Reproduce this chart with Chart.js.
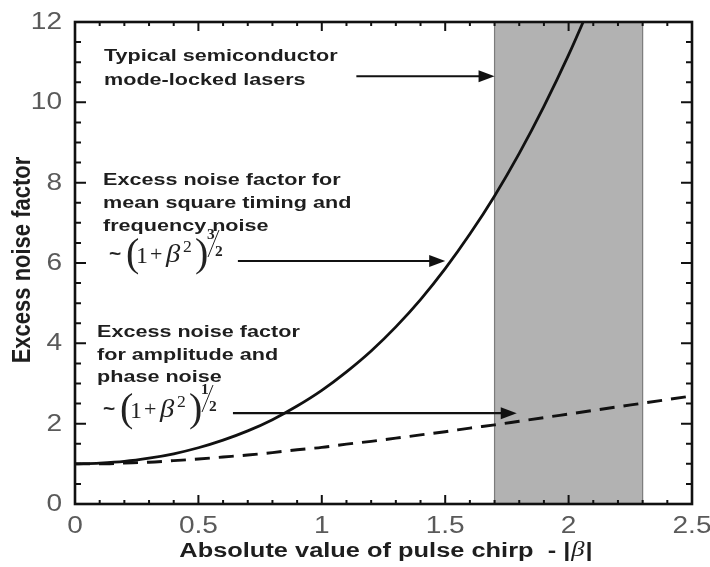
<!DOCTYPE html>
<html>
<head>
<meta charset="utf-8">
<script src="https://cdn.jsdelivr.net/npm/chart.js@4.4.0/dist/chart.umd.min.js"></script>
<style>
    html, body { margin: 0; padding: 0; background: #ffffff; }
    #wrap { width: 710px; height: 567px; }
</style>
</head>
<body>
<div id="wrap"><canvas id="chirpChart" width="710" height="567"></canvas></div>
<script>
// absolute value of the pulse chirp |β|
const chirp = [0, 0.1, 0.2, 0.3, 0.4, 0.5, 0.6, 0.7, 0.8, 0.9, 1.0, 1.1, 1.2,
               1.3, 1.4, 1.5, 1.6, 1.7, 1.8, 1.9, 2.0, 2.1, 2.2, 2.3, 2.4, 2.5];

// timing / frequency noise factor, ~(1+β²)^(3/2) (runs off the top after 2.1)
const timingNoise = [1.00, 1.02, 1.06, 1.14, 1.25, 1.40, 1.59, 1.82, 2.10, 2.44, 2.83,
                     3.29, 3.81, 4.41, 5.09, 5.86, 6.72, 7.67, 8.73, 9.90, 11.18, 12.58];

// amplitude / phase noise factor, ~(1+β²)^(1/2)
const amplitudeNoise = [1.00, 1.00, 1.02, 1.04, 1.08, 1.12, 1.17, 1.22, 1.28, 1.35, 1.41,
                        1.49, 1.56, 1.64, 1.72, 1.80, 1.89, 1.97, 2.06, 2.15, 2.24, 2.33,
                        2.42, 2.51, 2.60, 2.69];

const xTicks = [0, 0.5, 1, 1.5, 2, 2.5];
const xTickLabels = ['0', '0.5', '1', '1.5', '2', '2.5'];
const yTicks = [0, 2, 4, 6, 8, 10, 12];
const yTickLabels = ['0', '2', '4', '6', '8', '10', '12'];

// chirp range of typical semiconductor mode-locked lasers
const laserBand = [1.7, 2.3];

// arrows, in data units
const arrows = [
    { from: [1.14, 10.65], to: [1.70, 10.65] },
    { from: [0.66, 6.05], to: [1.50, 6.05] },
    { from: [0.64, 2.26], to: [1.79, 2.26] }
];

const SANS = '"Liberation Sans", Arial, Helvetica, sans-serif';
const SERIF = '"Liberation Serif", "Times New Roman", serif';
const SX = 1.27;   // wide lettering

function txt(ctx, str, x, y, font, color, align, sx) {
    ctx.save();
    ctx.font = font;
    ctx.fillStyle = color;
    ctx.textAlign = align || 'left';
    ctx.textBaseline = 'alphabetic';
    ctx.translate(x, y);
    ctx.scale(sx || SX, 1);
    ctx.fillText(str, 0, 0);
    ctx.restore();
}

function textBlock(ctx, lines, x, y0, lineGap) {
    lines.forEach((l, i) => txt(ctx, l, x, y0 + i * lineGap, 'bold 17px ' + SANS, '#1e1e1e'));
}

// ~(1+β²)^(n/2)
function formula(ctx, x0, base, topDigit) {
    const c = '#222';
    txt(ctx, '~', x0, base - 3, 'bold 19px ' + SANS, c, 'left', 1.1);
    txt(ctx, '(', x0 + 17, base + 3, '40px ' + SERIF, c, 'left', 1.0);
    txt(ctx, '1', x0 + 27, base, '24px ' + SERIF, c, 'left', 1.0);
    txt(ctx, '+', x0 + 41, base - 2, '22px ' + SERIF, c, 'left', 1.0);
    txt(ctx, 'β', x0 + 57, base - 1, 'italic 26px ' + SERIF, c, 'left', 1.1);
    txt(ctx, '2', x0 + 74, base - 11, '16px ' + SERIF, c, 'left', 1.1);
    txt(ctx, ')', x0 + 86, base + 3, '40px ' + SERIF, c, 'left', 1.0);
    txt(ctx, topDigit, x0 + 98, base - 24, 'bold 14px ' + SERIF, c, 'left', 1.1);
    txt(ctx, '2', x0 + 106, base - 7, 'bold 14px ' + SERIF, c, 'left', 1.1);
    ctx.save();
    ctx.strokeStyle = c;
    ctx.lineWidth = 1;
    ctx.beginPath();
    ctx.moveTo(x0 + 99, base - 6);
    ctx.lineTo(x0 + 110, base - 33);
    ctx.stroke();
    ctx.restore();
}

const noiseDecor = {
    id: 'noiseDecor',
    beforeDatasetsDraw(chart) {
        const { ctx, chartArea: a, scales: { x } } = chart;
        const x1 = x.getPixelForValue(laserBand[0]);
        const x2 = x.getPixelForValue(laserBand[1]);
        ctx.save();
        ctx.fillStyle = '#b2b2b2';
        ctx.fillRect(x1, a.top, x2 - x1, a.bottom - a.top);
        ctx.strokeStyle = '#7c7c7c';
        ctx.lineWidth = 1.2;
        ctx.beginPath();
        ctx.moveTo(x1, a.top); ctx.lineTo(x1, a.bottom);
        ctx.moveTo(x2, a.top); ctx.lineTo(x2, a.bottom);
        ctx.stroke();
        ctx.restore();
    },
    afterDatasetsDraw(chart) {
        const { ctx, chartArea: a, scales: { x, y } } = chart;
        ctx.save();

        // inward ticks on all four sides
        ctx.strokeStyle = '#111';
        ctx.lineWidth = 2;
        ctx.beginPath();
        for (let i = 0; i <= 25; i++) {
            const px = x.getPixelForValue(i / 10);
            const len = i % 5 === 0 ? 9 : 4;
            ctx.moveTo(px, a.bottom); ctx.lineTo(px, a.bottom - len);
            ctx.moveTo(px, a.top); ctx.lineTo(px, a.top + len);
        }
        for (let i = 0; i <= 24; i++) {
            const py = y.getPixelForValue(i / 2);
            const len = i % 4 === 0 ? 11 : 6;
            ctx.moveTo(a.left, py); ctx.lineTo(a.left + len, py);
            ctx.moveTo(a.right, py); ctx.lineTo(a.right - len, py);
        }
        ctx.stroke();

        // frame
        ctx.lineWidth = 2.6;
        ctx.strokeRect(a.left, a.top, a.right - a.left, a.bottom - a.top);

        // tick labels
        xTicks.forEach((v, i) => {
            txt(ctx, xTickLabels[i], x.getPixelForValue(v), a.bottom + 29, '23px ' + SANS, '#5a5a5a', 'center', 1.22);
        });
        yTicks.forEach((v, i) => {
            txt(ctx, yTickLabels[i], 62, y.getPixelForValue(v) + 7, '23px ' + SANS, '#5a5a5a', 'right', 1.22);
        });

        // arrows
        ctx.fillStyle = '#111';
        ctx.strokeStyle = '#111';
        arrows.forEach(ar => {
            const sx = x.getPixelForValue(ar.from[0]);
            const ex = x.getPixelForValue(ar.to[0]);
            const py = y.getPixelForValue(ar.from[1]);
            ctx.lineWidth = 2.2;
            ctx.beginPath();
            ctx.moveTo(sx, py); ctx.lineTo(ex - 12, py);
            ctx.stroke();
            ctx.beginPath();
            ctx.moveTo(ex, py);
            ctx.lineTo(ex - 16, py - 6);
            ctx.lineTo(ex - 16, py + 6);
            ctx.closePath();
            ctx.fill();
        });

        // annotations
        textBlock(ctx, ['Typical semiconductor', 'mode-locked lasers'], 104, 61, 24);
        textBlock(ctx, ['Excess noise factor for', 'mean square timing and', 'frequency noise'], 103, 185, 23);
        formula(ctx, 109, 263, '3');
        textBlock(ctx, ['Excess noise factor', 'for amplitude and', 'phase noise'], 97, 337, 22.5);
        formula(ctx, 103, 418, '1');

        // y axis title
        ctx.font = 'bold 22px ' + SANS;
        ctx.fillStyle = '#1e1e1e';
        ctx.textAlign = 'center';
        ctx.textBaseline = 'middle';
        ctx.save();
        ctx.translate(23, 260);
        ctx.scale(1.2, 1);
        ctx.rotate(-Math.PI / 2);
        ctx.fillText('Excess noise factor', 0, 0);
        ctx.restore();

        // x axis title, with italic β
        const partA = 'Absolute value of pulse chirp  - |';
        const fontA = 'bold 20px ' + SANS;
        const fontB = 'italic 21px ' + SERIF;
        ctx.font = fontA;
        const wA = ctx.measureText(partA).width * SX;
        const wBar = ctx.measureText('|').width * SX;
        ctx.font = fontB;
        const wB = ctx.measureText('β').width * SX;
        let tx = 385 - (wA + wB + wBar) / 2;
        txt(ctx, partA, tx, 557, fontA, '#1e1e1e');
        tx += wA;
        txt(ctx, 'β', tx + 1, 556, fontB, '#1e1e1e');
        tx += wB + 2;
        txt(ctx, '|', tx, 557, fontA, '#1e1e1e');

        ctx.restore();
    }
};

const ctx = document.getElementById('chirpChart').getContext('2d');
const chirpChart = new Chart(ctx, {
    type: 'line',
    data: {
        datasets: [
            {
                label: 'timing and frequency noise',
                data: timingNoise.map((v, i) => ({ x: chirp[i], y: v })),
                borderColor: '#111',
                borderWidth: 2.8,
                pointRadius: 0,
                fill: false,
                cubicInterpolationMode: 'monotone'
            },
            {
                label: 'amplitude and phase noise',
                data: amplitudeNoise.map((v, i) => ({ x: chirp[i], y: v })),
                borderColor: '#111',
                borderWidth: 2.9,
                borderDash: [15, 9],
                pointRadius: 0,
                fill: false,
                cubicInterpolationMode: 'monotone'
            }
        ]
    },
    options: {
        responsive: false,
        animation: false,
        devicePixelRatio: 1,
        layout: { padding: { top: 22, right: 18, left: 0, bottom: 0 } },
        plugins: {
            legend: { display: false },
            tooltip: { enabled: false }
        },
        scales: {
            x: {
                type: 'linear',
                min: 0,
                max: 2.5,
                grid: { display: false },
                border: { display: false },
                ticks: { display: false },
                afterFit(scale) { scale.height = 63; }
            },
            y: {
                type: 'linear',
                min: 0,
                max: 12,
                grid: { display: false },
                border: { display: false },
                ticks: { display: false },
                afterFit(scale) { scale.width = 75; }
            }
        }
    },
    plugins: [noiseDecor]
});
</script>
</body>
</html>
